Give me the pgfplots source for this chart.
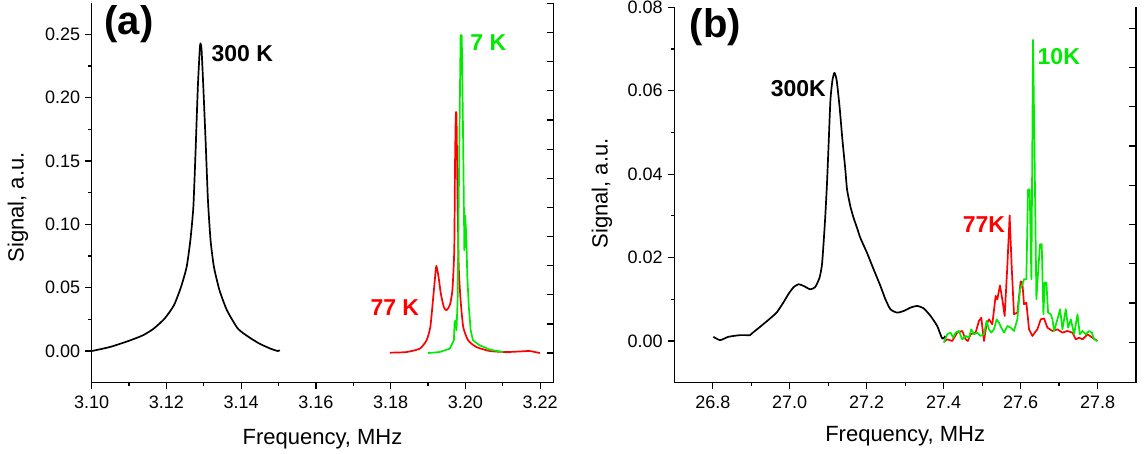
\documentclass[border=0pt]{standalone}
\usepackage{fontspec}
\setmainfont{Liberation Sans}
\usepackage{pgfplots}
\pgfplotsset{compat=1.18}

\definecolor{nmrred}{RGB}{255,0,0}
\definecolor{nmrgreen}{RGB}{0,235,0}

\pgfplotstableread{
x y
3.1000 0.0000
3.1049 0.0032
3.1098 0.0079
3.1137 0.0124
3.1166 0.0177
3.1195 0.0256
3.1220 0.0361
3.1239 0.0506
3.1254 0.0664
3.1264 0.0875
3.1272 0.1138
3.1278 0.1586
3.1284 0.2086
3.1289 0.2376
3.1291 0.2429
3.1294 0.2376
3.1299 0.2060
3.1305 0.1639
3.1311 0.1191
3.1318 0.0875
3.1327 0.0664
3.1342 0.0479
3.1362 0.0321
3.1391 0.0177
3.1420 0.0111
3.1449 0.0058
3.1479 0.0018
3.1498 0.0000
3.1503 0.0008
}\blackA

\pgfplotstableread{
x y
3.1798 -0.0013
3.1842 -0.0008
3.1878 0.0019
3.1896 0.0085
3.1906 0.0190
3.1913 0.0401
3.1918 0.0559
3.1922 0.0672
3.1928 0.0585
3.1934 0.0454
3.1942 0.0348
3.1949 0.0322
3.1958 0.0361
3.1965 0.0480
3.1970 0.0796
3.1972 0.1454
3.1974 0.1849
3.1976 0.1849
3.1979 0.1191
3.1982 0.0664
3.1987 0.0401
3.1994 0.0190
3.2007 0.0085
3.2029 0.0032
3.2065 0.0000
3.2110 -0.0008
3.2154 -0.0002
3.2172 0.0000
3.2199 -0.0016
}\redA

\pgfplotstableread{
x y
3.1900 -0.0016
3.1931 -0.0008
3.1958 0.0019
3.1969 0.0085
3.1971 0.0229
3.1974 0.0243
3.1976 0.0164
3.1979 0.0401
3.1982 0.1191
3.1985 0.1981
3.1987 0.2494
3.1990 0.2494
3.1993 0.1849
3.1996 0.1086
3.1997 0.0796
3.1999 0.1072
3.2002 0.0928
3.2005 0.0585
3.2009 0.0348
3.2014 0.0164
3.2020 0.0085
3.2038 0.0045
3.2065 0.0011
3.2101 -0.0008
}\greenA

\pgfplotstableread{
x y
26.8016 0.0010
26.8190 0.0002
26.8406 0.0010
26.8710 0.0014
26.8970 0.0014
26.9016 0.0018
26.9230 0.0034
26.9490 0.0054
26.9667 0.0069
26.9840 0.0093
26.9970 0.0113
27.0100 0.0129
27.0230 0.0136
27.0360 0.0132
27.0530 0.0124
27.0660 0.0129
27.0776 0.0152
27.0838 0.0183
27.0880 0.0235
27.0924 0.0299
27.0969 0.0379
27.1010 0.0470
27.1058 0.0578
27.1110 0.0625
27.1162 0.0643
27.1220 0.0625
27.1295 0.0562
27.1370 0.0482
27.1445 0.0411
27.1490 0.0363
27.1576 0.0323
27.1660 0.0295
27.1750 0.0271
27.1836 0.0247
27.2010 0.0211
27.2180 0.0172
27.2357 0.0132
27.2487 0.0100
27.2617 0.0076
27.2790 0.0068
27.2964 0.0072
27.3138 0.0080
27.3313 0.0084
27.3484 0.0078
27.3660 0.0060
27.3833 0.0036
27.3963 0.0006
27.4050 0.0012
}\blackB

\pgfplotstableread{
x y
27.4006 -0.0002
27.4093 0.0004
27.4223 0.0000
27.4354 0.0020
27.4484 0.0024
27.4571 0.0004
27.4631 0.0000
27.4701 0.0016
27.4831 0.0020
27.4918 0.0048
27.4979 0.0056
27.5048 0.0000
27.5117 0.0040
27.5178 0.0052
27.5265 0.0040
27.5352 0.0108
27.5395 0.0100
27.5465 0.0133
27.5525 0.0100
27.5586 0.0060
27.5656 0.0180
27.5716 0.0301
27.5768 0.0180
27.5829 0.0064
27.5916 0.0068
27.6003 0.0143
27.6046 0.0139
27.6090 0.0088
27.6150 0.0092
27.6220 0.0028
27.6307 0.0012
27.6367 0.0020
27.6437 0.0028
27.6524 0.0052
27.6610 0.0054
27.6697 0.0032
27.6827 0.0024
27.6957 0.0028
27.7088 0.0020
27.7218 0.0024
27.7348 0.0020
27.7435 0.0004
27.7522 0.0008
27.7609 0.0004
27.7739 0.0016
27.7869 0.0008
27.7999 0.0000
}\redB

\pgfplotstableread{
x y
27.4006 -0.0004
27.4093 0.0016
27.4180 0.0020
27.4249 0.0008
27.4310 0.0020
27.4397 0.0024
27.4484 0.0004
27.4571 0.0012
27.4657 0.0008
27.4718 0.0028
27.4788 0.0016
27.4874 0.0020
27.4961 0.0012
27.5048 0.0016
27.5117 0.0048
27.5178 0.0028
27.5239 0.0020
27.5308 0.0028
27.5378 0.0052
27.5439 0.0044
27.5499 0.0032
27.5569 0.0020
27.5656 0.0036
27.5742 0.0032
27.5829 0.0024
27.5916 0.0052
27.5985 0.0124
27.6046 0.0136
27.6090 0.0148
27.6150 0.0148
27.6194 0.0363
27.6237 0.0363
27.6281 0.0148
27.6324 0.0722
27.6367 0.0419
27.6411 0.0100
27.6454 0.0164
27.6506 0.0232
27.6550 0.0232
27.6593 0.0064
27.6628 0.0140
27.6671 0.0140
27.6715 0.0068
27.6784 0.0064
27.6828 0.0052
27.6871 0.0024
27.6958 0.0052
27.7027 0.0076
27.7088 0.0028
27.7175 0.0076
27.7236 0.0032
27.7305 0.0052
27.7392 0.0016
27.7479 0.0064
27.7539 0.0016
27.7609 0.0024
27.7696 0.0016
27.7782 0.0024
27.7852 0.0020
27.7912 0.0004
27.7999 0.0000
}\greenB

\pgfplotsset{
  panel/.style={
    scale only axis,
    anchor=south west,
    axis x line*=bottom, axis y line*=left,
    axis line style={line width=0.65pt, -},
    every tick/.style={black, line width=0.6pt},
    tick align=outside,
    major tick length=3.25pt, minor tick length=1.75pt,
    minor x tick num=1, minor y tick num=1,
    scaled x ticks=false, scaled y ticks=false,
    tick label style={font=\fontsize{9}{10}\selectfont},
    /pgf/number format/assume math mode=true,
    /pgf/number format/fixed, /pgf/number format/fixed zerofill,
    label style={font=\fontsize{11}{12}\selectfont},
    yticklabel shift=-1pt,
    clip=false,
  },
  spine/.style={
    scale only axis,
    anchor=south west,
    axis x line=none, axis y line*=right,
    axis line style={line width=0.65pt, -},
    every tick/.style={black, line width=0.6pt},
    tick align=inside, major tick length=3.3pt,
    scaled y ticks=false,
    yticklabels={},
  },
  curve/.style={line width=0.85pt, line join=round},
}

\begin{document}
\begin{tikzpicture}
\path[use as bounding box] (0,0) rectangle (573pt,227pt);

% panel (a)
\begin{axis}[spine, at={(45.85pt,35.65pt)}, width=230.8pt, height=190pt,
  xmin=3.10, xmax=3.2235, ymin=-0.025, ymax=0.275,
  ytick={-0.0016,0.0214,0.0444,0.0674,0.0904,0.1134,0.1364,0.1594,0.1824,0.2054,0.2284,0.2514,0.2744}]
\end{axis}
\begin{axis}[panel, at={(45.85pt,35.65pt)}, width=230.8pt, height=190pt,
  xmin=3.10, xmax=3.2235, ymin=-0.025, ymax=0.275,
  xtick={3.10,3.12,3.14,3.16,3.18,3.20,3.22},
  ytick={0,0.05,0.10,0.15,0.20,0.25},
  xticklabel style={/pgf/number format/precision=2},
  yticklabel style={/pgf/number format/precision=2},
  xlabel={Frequency, MHz}, ylabel={Signal, a.u.},
  xlabel style={at={(axis description cs:0.5,-0.148)}, anchor=center},
  ylabel style={at={(axis description cs:-0.16,0.461)}, anchor=center}]
\addplot[curve, black, smooth, tension=0.35] table[x=x, y=y] {\blackA};
\addplot[curve, nmrred, smooth, tension=0.35] table[x=x, y=y] {\redA};
\addplot[curve, nmrgreen] table[x=x, y=y] {\greenA};
\node[font=\fontsize{20}{22}\bfseries] at (axis cs:3.1100,0.2580) {(a)};
\node[font=\fontsize{11.5}{12}\bfseries] at (axis cs:3.1403,0.2345) {300 K};
\node[font=\fontsize{11.5}{12}\bfseries, text=nmrgreen] at (axis cs:3.2061,0.2437) {7 K};
\node[font=\fontsize{11.5}{12}\bfseries, text=nmrred] at (axis cs:3.1811,0.0342) {77 K};
\end{axis}

% panel (b)
\begin{axis}[spine, at={(337.15pt,35.65pt)}, width=230.85pt, height=187.7pt,
  xmin=26.7, xmax=27.9, ymin=-0.01, ymax=0.08,
  ytick={-0.0003,0.00911,0.01852,0.02793,0.03734,0.04675,0.05616,0.06557,0.07498}]
\end{axis}
\begin{axis}[panel, at={(337.15pt,35.65pt)}, width=230.85pt, height=187.7pt,
  xmin=26.7, xmax=27.9, ymin=-0.01, ymax=0.08,
  xtick={26.8,27.0,27.2,27.4,27.6,27.8},
  ytick={0,0.02,0.04,0.06,0.08},
  xticklabel style={/pgf/number format/precision=1},
  yticklabel style={/pgf/number format/precision=2},
  xlabel={Frequency, MHz}, ylabel={Signal, a.u.},
  xlabel style={at={(axis description cs:0.5,-0.142)}, anchor=center},
  ylabel style={at={(axis description cs:-0.157,0.5045)}, anchor=center}]
\addplot[curve, black, smooth, tension=0.35] table[x=x, y=y] {\blackB};
\addplot[curve, nmrred] table[x=x, y=y] {\redB};
\addplot[curve, nmrgreen] table[x=x, y=y] {\greenB};
\node[font=\fontsize{20}{22}\bfseries] at (axis cs:26.8066,0.0752) {(b)};
\node[font=\fontsize{11.5}{12}\bfseries] at (axis cs:27.0222,0.0606) {300K};
\node[font=\fontsize{11.5}{12}\bfseries, text=nmrgreen] at (axis cs:27.6993,0.0682) {10K};
\node[font=\fontsize{11.5}{12}\bfseries, text=nmrred] at (axis cs:27.5047,0.0278) {77K};
\end{axis}
\end{tikzpicture}
\end{document}
